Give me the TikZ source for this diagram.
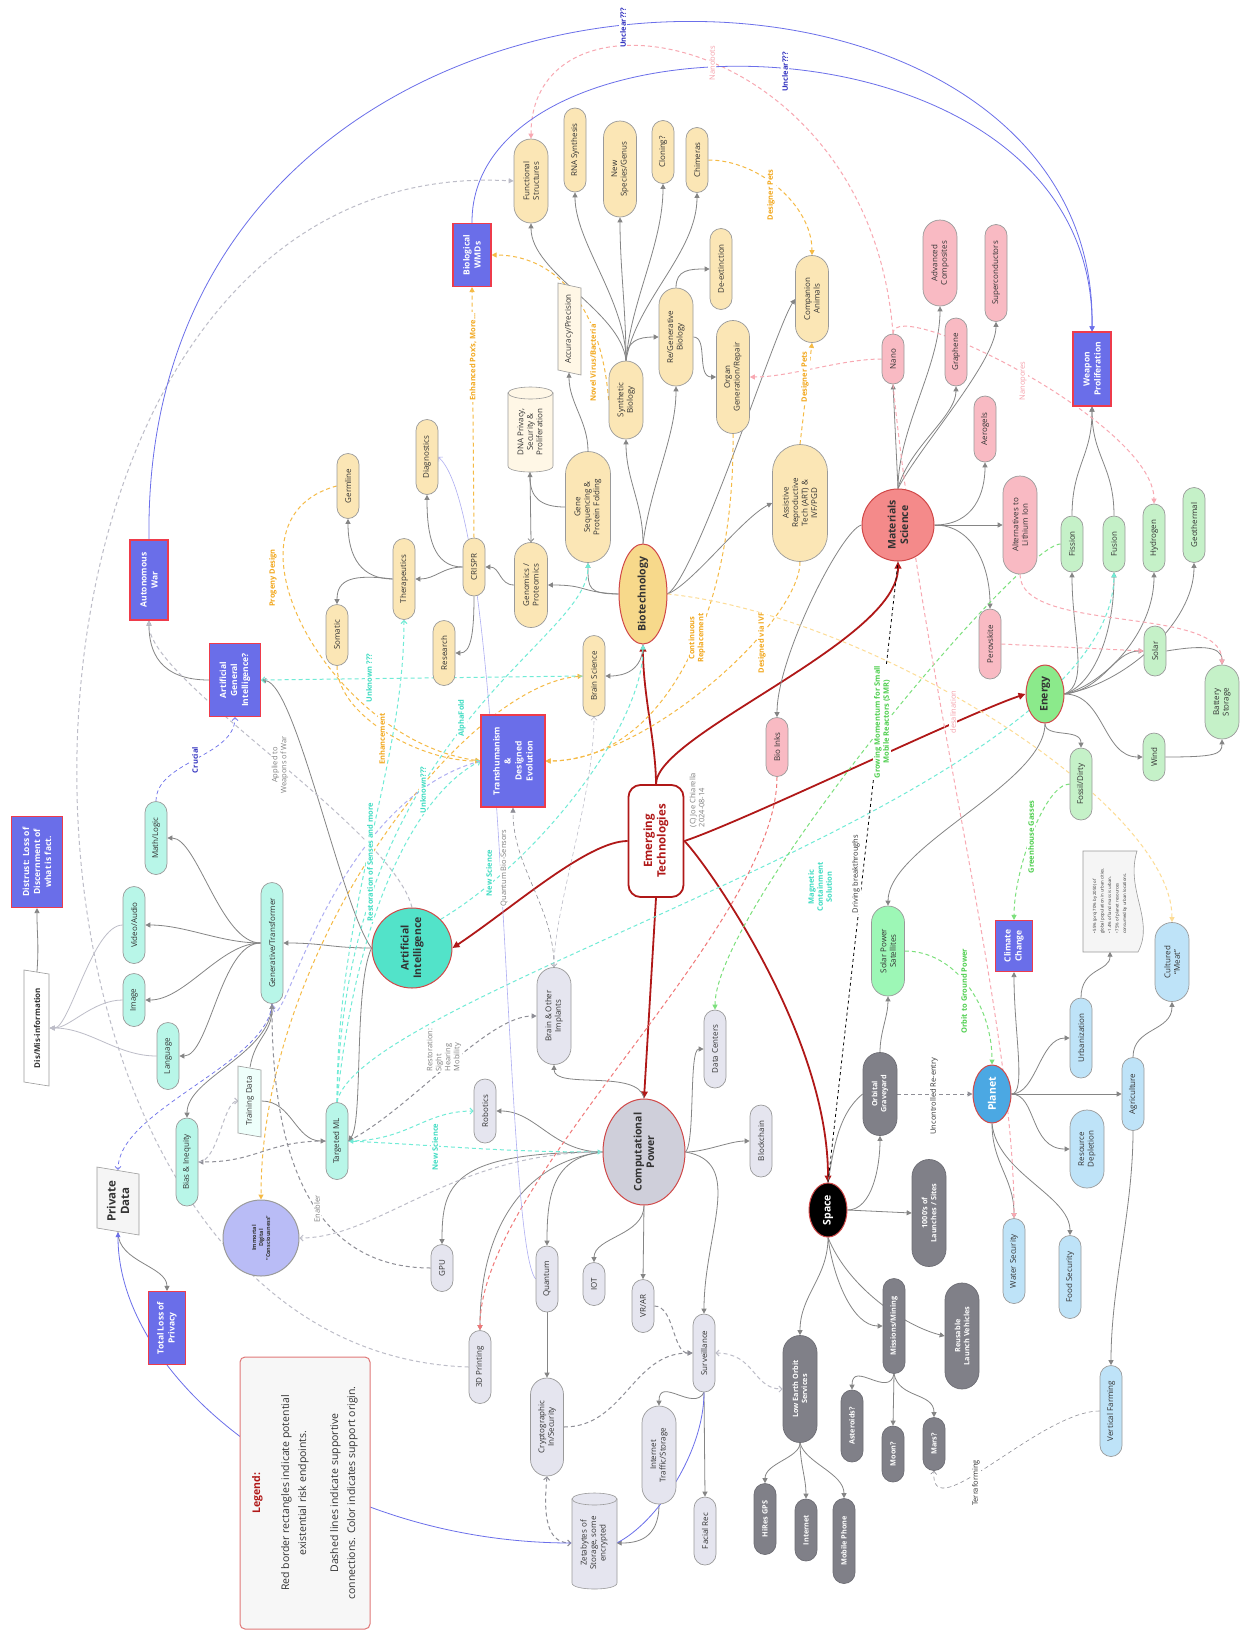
\documentclass[tikz,border=0pt]{standalone}
\usepackage{fontspec}
\setmainfont{Open Sans}
\usetikzlibrary{shapes.misc,shapes.geometric,arrows.meta,backgrounds}

\definecolor{bioFill}{HTML}{FBE6B5}
\definecolor{bioHub}{HTML}{F7D98B}
\definecolor{dnaFill}{HTML}{FFF7E6}
\definecolor{matFill}{HTML}{F9BAC3}
\definecolor{matHub}{HTML}{F48A8A}
\definecolor{enFill}{HTML}{C5F1C8}
\definecolor{enHub}{HTML}{8BEA8B}
\definecolor{spsFill}{HTML}{9DF7B6}
\definecolor{aiFill}{HTML}{B8F6E8}
\definecolor{aiHub}{HTML}{52E3C9}
\definecolor{tdFill}{HTML}{EEFFFB}
\definecolor{cpFill}{HTML}{E5E5EF}
\definecolor{cpHub}{HTML}{CFCFDA}
\definecolor{spFill}{HTML}{808088}
\definecolor{plFill}{HTML}{BEE3F8}
\definecolor{plHub}{HTML}{4BA8E3}
\definecolor{immFill}{HTML}{B9BCF6}
\definecolor{riskFill}{HTML}{6A6EE9}
\definecolor{riskLine}{HTML}{EE3B4B}
\definecolor{hubLine}{HTML}{D04848}
\definecolor{nodeLine}{HTML}{9A9A9A}
\definecolor{lineGray}{HTML}{858585}
\definecolor{etRed}{HTML}{B01818}
\definecolor{dashOrange}{HTML}{F5BA45}
\definecolor{dashPale}{HTML}{FDDC95}
\definecolor{dashPink}{HTML}{F8A8B2}
\definecolor{dashRed}{HTML}{F07878}
\definecolor{dashTeal}{HTML}{70EBD6}
\definecolor{dashGreen}{HTML}{7CE07C}
\definecolor{dashLav}{HTML}{AFAFF2}
\definecolor{dashGray}{HTML}{BDBDC8}
\definecolor{dashDark}{HTML}{8E8E96}
\definecolor{unclearBlue}{HTML}{6B6FEA}
\definecolor{labOrange}{HTML}{F2A81E}
\definecolor{labTeal}{HTML}{3FDCC2}
\definecolor{labGreen}{HTML}{4FCF4F}
\definecolor{labPink}{HTML}{F5A0AA}
\definecolor{labBlue}{HTML}{3434C0}
\definecolor{textDark}{HTML}{333333}
\definecolor{legendLine}{HTML}{E07878}
\definecolor{legendFill}{HTML}{F7F7F7}
\definecolor{paperFill}{HTML}{F5F5F5}

\tikzset{
  dims/.style 2 args={minimum height=#1pt, minimum width=#2pt},
  tech/.style={rounded rectangle, rotate=90, draw=nodeLine, line width=0.7pt,
    inner sep=1pt, align=center, text=textDark, font=\fontsize{8}{9.5}\selectfont},
  biobox/.style={tech, fill=bioFill},
  matbox/.style={tech, fill=matFill},
  enbox/.style={tech, fill=enFill},
  aibox/.style={tech, fill=aiFill},
  cpbox/.style={tech, fill=cpFill},
  plbox/.style={tech, fill=plFill},
  spbox/.style={tech, fill=spFill, draw=spFill!85!black, text=white,
    font=\bfseries\fontsize{7.3}{9}\selectfont},
  txtbox/.style={rectangle, rotate=90, inner sep=1pt, align=center, text=textDark,
    font=\fontsize{8}{9.5}\selectfont},
  hub/.style={ellipse, rotate=90, draw=hubLine, line width=1pt, inner sep=-20pt,
    align=center, text=textDark, font=\bfseries\fontsize{10.5}{12.5}\selectfont},
  risk/.style={rectangle, rotate=90, draw=riskLine, line width=1.1pt, fill=riskFill,
    text=white, inner sep=2pt, align=center, font=\bfseries\fontsize{8.5}{11}\selectfont},
  lab/.style={rotate=90, fill=white, inner sep=1pt, align=center,
    font=\bfseries\fontsize{7.5}{9}\selectfont},
  labn/.style={lab, font=\fontsize{7.5}{9}\selectfont},
  arr/.style={draw=lineGray, line width=0.8pt, -{Triangle[length=5pt,width=5pt]}},
  arrLight/.style={draw=dashGray, line width=0.8pt, -{Triangle[length=5pt,width=5pt]}},
  arrOpen/.style={draw=lineGray, line width=0.8pt, -{Straight Barb[length=3pt,width=6pt]}},
  etarrow/.style={draw=etRed, line width=1.8pt, -{Triangle[length=7pt,width=6.5pt]}},
  dsh/.style={dash pattern=on 4pt off 3pt, line width=1pt},
  tipF/.style={-{Triangle[length=5pt,width=5pt]}},
  tipO/.style={-{Straight Barb[length=3pt,width=6pt]}},
  tipFF/.style={{Triangle[length=5pt,width=5pt]}-{Triangle[length=5pt,width=5pt]}},
  tipOO/.style={{Straight Barb[length=3pt,width=6pt]}-{Straight Barb[length=3pt,width=6pt]}},
  tipOF/.style={{Straight Barb[length=3pt,width=6pt]}-{Triangle[length=5pt,width=5pt]}},
}

\begin{document}
\begin{tikzpicture}[x=1pt,y=-1pt]
\useasboundingbox (0,0) rectangle (1246,1630);

% Biotechnology
\node[biobox, dims={34}{86}] (fs) at (531,181) {Functional\\Structures};
\node[biobox, dims={22}{86}] (rna) at (575,150) {RNA Synthesis};
\node[biobox, dims={33}{98}] (nsg) at (620,169) {New\\Species/Genus};
\node[biobox, dims={22}{65}] (clo) at (663,152) {Cloning?};
\node[biobox, dims={22}{67}] (chi) at (697,160) {Chimeras};
\node[biobox, dims={22}{83}] (dex) at (721,269) {De-extinction};
\node[biobox, dims={34}{100}] (rg) at (676,337) {Re/Generative\\Biology};
\node[biobox, dims={33}{115}] (org) at (733,377) {Organ\\Generation/Repair};
\node[biobox, dims={33}{89}] (ca) at (812,299) {Companion\\Animals};
\node[biobox, dims={34}{80}] (syn) at (626,400) {Synthetic\\Biology};
\node[biobox, dims={45}{113}] (gs) at (588,507) {Gene\\Sequencing \&\\Protein Folding};
\node[biobox, dims={33}{87}] (gen) at (531,585) {Genomics /\\Proteomics};
\node[biobox, dims={22}{60}] (cr) at (474,567) {CRISPR};
\node[biobox, dims={22}{77}] (diag) at (427,457) {Diagnostics};
\node[biobox, dims={22}{67}] (res) at (444,653) {Research};
\node[biobox, dims={22}{83}] (ther) at (404,579) {Therapeutics};
\node[biobox, dims={22}{67}] (germ) at (348,486) {Germline};
\node[biobox, dims={22}{63}] (som) at (337,635) {Somatic};
\node[biobox, dims={22}{83}] (bs) at (594,676) {Brain Science};
\node[biobox, dims={55}{119}] (art) at (800,503) {Assistive\\Reproductive\\Tech (ART) \&\\IVF/PGD};
\filldraw[fill=dnaFill, draw=nodeLine, line width=0.6pt] (508,393) -- (508,466) .. controls (508,474) and (553,474) .. (553,466) -- (553,393) -- cycle;
\filldraw[fill=dnaFill, draw=nodeLine, line width=0.6pt] (530.5,393) ellipse [x radius=22.5pt, y radius=6pt];
\node[txtbox, dims={45}{80}] (dna) at (530,432) {DNA Privacy,\\Security \&\\Proliferation};
\filldraw[fill=dnaFill, draw=nodeLine, line width=0.6pt] (558,283) -- (581,288) -- (581,375) -- (558,370) -- cycle;
\node[txtbox, dims={23}{87}] (acc) at (569,329) {Accuracy/Precision};
\node[hub, fill=bioHub, dims={48}{100}] (bt) at (643,594) {Biotechnology};

% Materials Science
\node[matbox, dims={22}{52}] (nano) at (893,359) {Nano};
\node[matbox, dims={34}{88}] (adc) at (940,263) {Advanced\\Composites};
\node[matbox, dims={22}{70}] (gra) at (956,352) {Graphene};
\node[matbox, dims={22}{99}] (scon) at (996,273) {Superconductors};
\node[matbox, dims={22}{68}] (aer) at (985,429) {Aerogels};
\node[matbox, dims={34}{100}] (ali) at (1020,525) {Alternatives to\\Lithium Ion};
\node[matbox, dims={22}{72}] (per) at (990,644) {Perovskite};
\node[matbox, dims={22}{61}] (bio) at (777,747) {Bio Inks};
\node[hub, fill=matHub, dims={72}{72}] (ms) at (898,525) {Materials\\Science};

% Energy
\node[enbox, dims={22}{58}] (fis) at (1072,544) {Fission};
\node[enbox, dims={22}{58}] (fus) at (1114,544) {Fusion};
\node[enbox, dims={22}{70}] (hyd) at (1154,538) {Hydrogen};
\node[enbox, dims={22}{77}] (geo) at (1194,525) {Geothermal};
\node[enbox, dims={22}{52}] (sol) at (1155,651) {Solar};
\node[enbox, dims={34}{76}] (bat) at (1222,702) {Battery\\Storage};
\node[enbox, dims={22}{50}] (wind) at (1154,757) {Wind};
\node[enbox, dims={22}{74}] (fos) at (1081,784) {Fossil/Dirty};
\node[enbox, fill=spsFill, dims={33}{92}] (sps) at (888,951) {Solar Power\\Satellites};
\node[hub, fill=enHub, dims={38}{58}] (en) at (1045,694) {Energy};

% Risk endpoints
\node[risk, dims={38}{63}] (bwmd) at (472,255) {Biological\\WMDs};
\node[risk, dims={38}{74}] (wp) at (1092,369) {Weapon\\Proliferation};
\node[risk, dims={38}{80}] (aw) at (149,580) {Autonomous\\War};
\node[risk, dims={51}{73}] (agi) at (235,680) {Artificial\\General\\Intelligence?};
\node[risk, dims={64}{92}] (trans) at (513,761) {Transhumanism\\\&\\Designed\\Evolution};
\node[risk, dims={51}{91}] (dis) at (37,862) {Distrust: Loss of\\Discernment of\\what is fact.};
\node[risk, dims={37}{73}] (tlp) at (167,1328) {Total Loss of\\Privacy};
\node[risk, dims={37}{51}] (cc) at (1014,946) {Climate\\Change};

% Artificial Intelligence
\node[aibox, dims={22}{123}] (gt) at (272,943) {Generative/Transformer};
\node[aibox, dims={22}{75}] (ml) at (156,838) {Math/Logic};
\node[aibox, dims={22}{79}] (va) at (134,925) {Video/Audio};
\node[aibox, dims={22}{55}] (img) at (134,1000) {Image};
\node[aibox, dims={22}{69}] (lang) at (168,1056) {Language};
\node[aibox, dims={22}{90}] (bi) at (187,1162) {Bias \& Inequity};
\node[aibox, dims={22}{79}] (tml) at (337,1141) {Targeted ML};
\filldraw[fill=tdFill, draw=nodeLine, line width=0.6pt] (238,1066) -- (261,1070) -- (261,1137) -- (238,1133) -- cycle;
\node[txtbox, dims={23}{67}] (td) at (250,1101) {Training Data};
\filldraw[fill=white, draw=nodeLine, line width=0.6pt] (24,970) -- (49,974) -- (49,1086) -- (24,1082) -- cycle;
\node[txtbox, dims={25}{112}, font=\bfseries\fontsize{8}{9.5}\selectfont] (dm) at (37,1028) {Dis/Mis-information};
\filldraw[fill=paperFill, draw=nodeLine, line width=0.6pt] (97,1167) -- (139,1174) -- (139,1235) -- (97,1228) -- cycle;
\node[txtbox, dims={42}{62}, font=\bfseries\fontsize{11.5}{13.5}\selectfont] (pd) at (118,1201) {Private\\Data};
\node[hub, fill=aiHub, dims={80}{80}] (ai) at (412,948) {Artificial\\Intelligence};
\node[hub, fill=immFill, draw=nodeLine, dims={76}{76}, font=\bfseries\fontsize{5.5}{7}\selectfont] (imm) at (261,1238) {Immortal\\Digital\\``Consciousness''};

% Computational Power
\node[cpbox, dims={34}{99}] (boi) at (554,1016) {Brain \& Other\\Implants};
\node[cpbox, dims={22}{66}] (rob) at (485,1111) {Robotics};
\node[cpbox, dims={22}{80}] (dc) at (715,1049) {Data Centers};
\node[cpbox, dims={22}{74}] (blk) at (761,1141) {Blockchain};
\node[cpbox, dims={22}{49}] (gpu) at (442,1268) {GPU};
\node[cpbox, dims={22}{68}] (qu) at (547,1279) {Quantum};
\node[cpbox, dims={22}{45}] (iot) at (594,1284) {IOT};
\node[cpbox, dims={22}{55}] (vr) at (643,1306) {VR/AR};
\node[cpbox, dims={22}{80}] (surv) at (704,1353) {Surveillance};
\node[cpbox, dims={22}{75}] (tdp) at (480,1367) {3D Printing};
\node[cpbox, dims={33}{100}] (cry) at (547,1427) {Cryptographic\\In/Security};
\node[cpbox, dims={34}{100}] (its) at (659,1455) {Internet\\Traffic/Storage};
\node[cpbox, dims={22}{70}] (fr) at (705,1531) {Facial Rec};
\filldraw[fill=cpFill, draw=nodeLine, line width=0.6pt] (572,1499) -- (572,1583) .. controls (572,1591) and (617,1591) .. (617,1583) -- (617,1499) -- cycle;
\filldraw[fill=cpFill, draw=nodeLine, line width=0.6pt] (594.5,1499) ellipse [x radius=22.5pt, y radius=6pt];
\node[txtbox, dims={45}{86}] (zb) at (594,1543) {Zetabytes of\\Storage, some\\encrypted};
\node[hub, fill=cpHub, dims={82}{106}] (cp) at (644,1152) {Computational\\Power};

% Space
\node[spbox, dims={34}{85}] (og) at (880,1094) {Orbital\\Graveyard};
\node[spbox, dims={34}{109}] (lau) at (929,1213) {1000's of\\Launches / Sites};
\node[spbox, dims={22}{97}] (mm) at (894,1326) {Missions/Mining};
\node[spbox, dims={34}{108}] (rlv) at (962,1336) {Reusable\\Launch Vehicles};
\node[spbox, dims={22}{74}] (ast) at (852,1426) {Asteroids?};
\node[spbox, dims={22}{58}] (moon) at (893,1454) {Moon?};
\node[spbox, dims={22}{55}] (mars) at (934,1444) {Mars?};
\node[spbox, dims={34}{109}] (leo) at (800,1389) {Low Earth Orbit\\Services};
\node[spbox, dims={22}{73}] (gps) at (765,1519) {HiRes GPS};
\node[spbox, dims={22}{64}] (inet) at (806,1530) {Internet};
\node[spbox, dims={22}{87}] (mob) at (844,1541) {Mobile Phone};
\node[hub, fill=black, text=white, dims={38}{54}] (sp) at (828,1210) {Space};

% Planet
\node[plbox, dims={22}{82}] (urb) at (1081,1038) {Urbanization};
\node[plbox, dims={34}{80}] (rd) at (1087,1149) {Resource\\Depletion};
\node[plbox, dims={22}{75}] (agr) at (1133,1094) {Agriculture};
\node[plbox, dims={34}{81}] (cm) at (1172,962) {Cultured\\``Meat''};
\node[plbox, dims={22}{87}] (ws) at (1014,1261) {Water Security};
\node[plbox, dims={22}{85}] (fsec) at (1070,1277) {Food Security};
\node[plbox, dims={22}{93}] (vf) at (1111,1411) {Vertical Farming};
\filldraw[fill=paperFill, draw=nodeLine, line width=0.6pt] (1083,851) -- (1137,851) .. controls (1125,890) and (1155,920) .. (1138,952) -- (1083,952) -- cycle;
\node[txtbox, dims={55}{101}, align=left, font=\fontsize{4.3}{7.5}\selectfont] (note) at (1110,901) {• 55\% (proj 70\% by 2050) of\\global population in urban cities.\\• 1.4\% of land mass is urban.\\• 75\% of planet resources\\consumed by urban locations.};
\node[hub, fill=plHub, text=white, dims={38}{58}] (pl) at (992,1094) {Planet};

% Centre
\node[rectangle, rounded corners=12pt, rotate=90, draw=etRed, line width=1.8pt, fill=white, dims={55}{112}, text=etRed, align=center, font=\bfseries\fontsize{11.5}{13.5}\selectfont] (et) at (656,841) {Emerging\\Technologies};
\node[rotate=90, text=gray, align=left, font=\fontsize{7.5}{9}\selectfont] (copy) at (697,800) {(C) Joe Chiarella\\2024-08-14};

% Legend
\node[rectangle, rounded corners=5pt, rotate=90, draw=legendLine, line width=1pt, fill=legendFill, dims={130}{272}, align=center, text=textDark, font=\fontsize{10.5}{17}\selectfont] (legend) at (305,1493) {{\color{etRed}\bfseries Legend:}\\[12pt]Red border rectangles indicate potential\\existential risk endpoints.\\[15pt]Dashed lines indicate supportive\\connections. Color indicates support origin.};

\begin{scope}[on background layer]
\fill[white] (0,0) rectangle (1246,1630);

% Emerging Technologies spokes
\draw[etarrow] (et.east) .. controls +(0,-40) and +(0,50) .. (bt.west);
\draw[etarrow] (et.east) .. controls +(0,-50) and +(0,80) .. (ms.west);
\draw[etarrow] (et.south) .. controls +(60,-20) and +(-60,20) .. (en.north);
\draw[etarrow] (et.south) .. controls +(20,20) and +(0,-150) .. (sp.east);
\draw[etarrow] (et.north) .. controls +(-40,0) and +(60,-40) .. (ai.south);
\draw[etarrow] (et.west) -- (cp.east);

% Biotechnology tree
\draw[arr] (bt.north) .. controls +(-40,-2) and +(40,0) .. (gen.south);
\draw[arr] (bt.north) .. controls +(-30,0) and +(0,25) .. (gs.west);
\draw[arr] (bt.east) .. controls +(0,-40) and +(0,40) .. (syn.west);
\draw[arr] (bt.east) .. controls +(8,-60) and +(0,50) .. (rg.west);
\draw[arr] (bt.south) .. controls +(30,-20) and +(-20,30) .. (ca.north);
\draw[arr] (bt.south) .. controls +(25,-10) and +(-30,15) .. (art.north);
\draw[arr] (bt.west) .. controls +(0,25) and +(20,0) .. (bs.south);
\draw[arr] (syn.east) .. controls +(-5,-50) and +(0,50) .. (fs.west);
\draw[arr] (syn.east) .. controls +(0,-60) and +(0,50) .. (rna.west);
\draw[arr] (syn.east) .. controls +(0,-50) and +(0,50) .. (nsg.west);
\draw[arr] (syn.east) .. controls +(5,-60) and +(0,60) .. (clo.west);
\draw[arr] (syn.east) .. controls +(10,-60) and +(0,60) .. (chi.west);
\draw[arr] (syn.east) .. controls +(0,-20) and +(-20,0) .. (rg.north);
\draw[arr] (rg.east) .. controls +(0,-18) and +(-20,0) .. (dex.north);
\draw[arr] (rg.south) .. controls +(15,0) and +(-20,0) .. (org.north);
\draw[arr] (gs.north) .. controls +(-25,0) and +(0,25) .. (dna.west);
\draw[arr] (gs.east) .. controls +(0,-30) and +(0,30) .. (acc.west);
\draw[arrOpen] (dna.west) -- (gen.east);
\draw[arr] (gen.north) .. controls +(-15,0) and +(15,0) .. (cr.south);
\draw[arr] (cr.north) .. controls +(-30,0) and +(0,40) .. (diag.west);
\draw[arr] (cr.north) .. controls +(-20,0) and +(20,0) .. (ther.south);
\draw[arr] (cr.west) .. controls +(0,40) and +(15,0) .. (res.south);
\draw[arr] (ther.north) .. controls +(-30,0) and +(0,40) .. (germ.west);
\draw[arr] (ther.north) .. controls +(-40,-5) and +(0,-25) .. (som.east);

% Materials tree
\draw[arr] (ms.east) -- (nano.west);
\draw[arr] (ms.east) .. controls +(0,-60) and +(0,60) .. (adc.west);
\draw[arr] (ms.east) .. controls +(10,-40) and +(0,30) .. (gra.west);
\draw[arr] (ms.east) .. controls +(20,-40) and +(0,40) .. (scon.west);
\draw[arr] (ms.south) .. controls +(40,0) and +(0,30) .. (aer.west);
\draw[arr] (ms.south) -- (ali.north);
\draw[arr] (ms.south) .. controls +(40,0) and +(0,-40) .. (per.east);
\draw[arr] (ms.north) .. controls +(-20,5) and +(0,-60) .. (bio.east);

% Energy tree
\draw[arr] (en.south) .. controls +(25,-10) and +(0,60) .. (fis.west);
\draw[arr] (en.south) .. controls +(30,-10) and +(0,60) .. (fus.west);
\draw[arr] (en.south) .. controls +(40,-10) and +(0,60) .. (hyd.west);
\draw[arr] (en.south) .. controls +(60,-10) and +(0,60) .. (geo.west);
\draw[arr] (en.south) .. controls +(40,-5) and +(-30,0) .. (sol.north);
\draw[arr] (en.south) .. controls +(40,0) and +(-40,0) .. (wind.north);
\draw[arr] (en.west) .. controls +(0,15) and +(0,-20) .. (fos.east);
\draw[arr] (en.west) .. controls +(0,60) and +(0,-60) .. (sps.east);
\draw[arr] (fis.east) .. controls +(0,-50) and +(0,50) .. (wp.west);
\draw[arr] (fus.east) .. controls +(0,-50) and +(0,50) .. (wp.west);
\draw[arr] (sol.south) .. controls +(30,-5) and +(0,-20) .. (bat.east);
\draw[arr] (wind.south) .. controls +(50,0) and +(0,15) .. (bat.west);

% Space tree
\draw[arr] (sp.south) .. controls +(25,0) and +(0,30) .. (og.west);
\draw[draw=lineGray, line width=0.8pt] (og.north) .. controls +(-25,20) and +(5,-30) .. (sp.east);
\draw[arr] (og.east) .. controls +(0,-20) and +(0,20) .. (sps.west);
\draw[arr] (sp.south) -- (lau.north);
\draw[arr] (sp.west) .. controls +(5,40) and +(-30,0) .. (mm.north);
\draw[arr] (sp.west) .. controls +(20,50) and +(-40,-10) .. (rlv.north);
\draw[arr] (mm.west) .. controls +(-5,25) and +(0,-30) .. (ast.east);
\draw[arr] (mm.west) -- (moon.east);
\draw[arr] (mm.west) .. controls +(5,25) and +(0,-25) .. (mars.east);
\draw[arr] (sp.west) .. controls +(0,40) and +(0,-40) .. (leo.east);
\draw[arr] (leo.west) .. controls +(0,15) and +(0,-20) .. (gps.east);
\draw[arr] (leo.west) .. controls +(0,20) and +(0,-20) .. (inet.east);
\draw[arr] (leo.west) .. controls +(5,20) and +(0,-25) .. (mob.east);

% Planet tree
\draw[arr] (pl.south) .. controls +(15,0) and +(0,60) .. (cc.west);
\draw[arr] (pl.south) .. controls +(25,0) and +(-30,0) .. (urb.north);
\draw[arr] (pl.south) -- (agr.north);
\draw[arr] (pl.south) .. controls +(25,0) and +(-40,0) .. (rd.north);
\draw[arr] (pl.west) .. controls +(0,40) and +(0,-40) .. (ws.east);
\draw[arr] (pl.west) .. controls +(5,50) and +(0,-40) .. (fsec.east);
\draw[arr] (urb.east) .. controls +(0,-30) and +(0,20) .. (note.west);
\draw[arr] (agr.east) .. controls +(0,-30) and +(0,30) .. (cm.west);
\draw[arr] (agr.west) .. controls +(0,80) and +(0,-80) .. (vf.east);

% AI tree
\draw[arr] (ai.north) .. controls +(-40,0) and +(40,0) .. (gt.south);
\draw[arr] (ai.north) .. controls +(-18,40) and +(15,-20) .. (tml.south);
\draw[arr] (ai.north) .. controls +(-30,-40) and +(35,5) .. (agi.south);
\draw[arr] (agi.north) .. controls +(-50,0) and +(0,30) .. (aw.west);
\draw[arr] (gt.north) .. controls +(-40,0) and +(30,0) .. (ml.south);
\draw[arr] (gt.north) .. controls +(-40,0) and +(40,0) .. (va.south);
\draw[arr] (gt.north) .. controls +(-40,0) and +(40,0) .. (img.south);
\draw[arr] (gt.north) .. controls +(-40,0) and +(30,0) .. (lang.south);
\draw[arr] (gt.west) .. controls +(0,50) and +(0,-40) .. (bi.east);
\draw[arr] (td.east) .. controls +(5,-30) and +(0,30) .. (gt.west);
\draw[arr] (td.south) .. controls +(30,0) and +(-30,0) .. (tml.north);
\draw[arrLight] (va.north) .. controls +(-30,0) and +(20,0) .. (dm.south);
\draw[arrLight] (img.north) .. controls +(-30,0) and +(20,0) .. (dm.south);
\draw[arrLight] (lang.north) .. controls +(-40,0) and +(40,0) .. (dm.south);
\draw[arr] (dm.east) .. controls +(2,-30) and +(0,30) .. (dis.west);
\draw[arr] (pd.west) .. controls +(0,30) and +(0,-25) .. (tlp.east);

% Computational Power tree
\draw[arr] (cp.east) .. controls +(-5,-30) and +(0,25) .. (boi.west);
\draw[arr] (cp.north) .. controls +(-50,0) and +(40,0) .. (rob.south);
\draw[arr] (cp.south) .. controls +(10,-10) and +(-15,0) .. (dc.north);
\draw[arr] (cp.south) .. controls +(20,0) and +(-20,0) .. (blk.north);
\draw[arr] (cp.south) .. controls +(60,10) and +(0,-80) .. (surv.east);
\draw[arr] (cp.north) .. controls +(-150,0) and +(0,-60) .. (gpu.east);
\draw[arr] (cp.north) .. controls +(-80,10) and +(0,-100) .. (tdp.east);
\draw[arr] (cp.north) .. controls +(-50,5) and +(0,-50) .. (qu.east);
\draw[arr] (cp.west) .. controls +(0,30) and +(0,-25) .. (iot.east);
\draw[arr] (cp.west) -- (vr.east);
\draw[arr] (qu.west) -- (cry.east);
\draw[arr] (surv.west) .. controls +(-10,20) and +(0,-30) .. (its.east);
\draw[arr] (surv.west) -- (fr.east);
\draw[arr] (its.west) .. controls +(0,35) and +(20,0) .. (zb.south);

% Supportive connections
\draw[dsh, draw=dashDark, tipF] (og.south) -- (pl.north);
\draw[dsh, draw=dashGreen, tipF] (sps.south) .. controls +(50,0) and +(0,-60) .. (pl.east);
\draw[dsh, draw=dashGreen, tipF] (fos.north) .. controls +(-25,0) and +(0,-50) .. (cc.east);
\draw[dsh, draw=dashTeal, tipF] (tml.east) .. controls +(23,-112) and +(-4,227) .. (fus.west);
\draw[dsh, draw=dashGreen, tipF] (fis.north) .. controls +(-40,0) and +(0,-100) .. (dc.east);
\draw[dsh, draw=dashPink, tipF] (nano.east) .. controls +(-23,-303) and +(0,-168) .. (fs.east);
\draw[dsh, draw=dashPink, tipF] (nano.east) .. controls +(0,-40) and +(0,-80) .. (hyd.east);
\draw[dsh, draw=dashPink, tipF] (nano.north) .. controls +(-40,0) and +(40,0) .. (org.south);
\draw[dsh, draw=dashPink, tipF] (nano.west) .. controls +(30,300) and +(0,-200) .. (ws.east);
\draw[dsh, draw=dashPink, tipF] (ali.west) .. controls +(0,60) and +(0,-60) .. (bat.east);
\draw[dsh, draw=dashPink, tipF] (per.south) -- (sol.north);
\draw[dsh, draw=dashRed, tipF] (bio.west) .. controls +(0,150) and +(0,-150) .. (tdp.east);
\draw[dsh, draw=dashOrange, tipF] (syn.north) .. controls +(-8,-100) and +(60,0) .. (bwmd.south);
\draw[dsh, draw=dashOrange, tipF] (cr.east) -- (bwmd.west);
\draw[dsh, draw=dashOrange, tipF] (chi.south) .. controls +(50,0) and +(0,-50) .. (ca.east);
\draw[dsh, draw=dashOrange, tipF] (art.east) -- (ca.west);
\draw[dsh, draw=dashOrange, tipF] (org.west) .. controls +(2,186) and +(115,0) .. (trans.south);
\draw[dsh, draw=dashOrange, tipF] (art.west) .. controls +(0,60) and +(100,0) .. (trans.south);
\draw[dsh, draw=dashOrange, tipF] (som.west) .. controls +(0,50) and +(-60,0) .. (trans.north);
\draw[dsh, draw=dashOrange, tipF] (germ.north) .. controls +(-127,34) and +(-151,-21) .. (trans.north);
\draw[dsh, draw=dashOrange, tipFF] (bs.north) .. controls +(-120,10) and +(0,-250) .. (imm.east);
\draw[dsh, draw=dashPale, tipF] (bt.south) .. controls +(200,20) and +(0,-120) .. (cm.east);
\draw[dsh, draw=dashTeal, tipF] (ai.south east) .. controls +(100,-60) and +(0,80) .. (bt.west);
\draw[dsh, draw=dashTeal, tipF] (tml.east) .. controls +(8,-372) and +(0,80) .. (gs.west);
\draw[dsh, draw=dashTeal, tipO] (tml.east) .. controls +(0,-200) and +(0,150) .. (ther.west);
\draw[dsh, draw=dashTeal, tipO] (tml.east) .. controls +(20,-200) and +(-60,30) .. (trans.north);
\draw[dsh, draw=dashTeal, tipO] (bs.north) -- (agi.south);
\draw[dsh, draw=dashTeal, tipO] (tml.south) .. controls +(60,0) and +(-50,0) .. (rob.north);
\draw[dsh, draw=dashTeal, tipFF] (tml.south) .. controls +(100,5) and +(-100,0) .. (cp.north);
\draw[dsh, draw=dashLav, tipF] (trans.north) .. controls +(-150,40) and +(10,40) .. (gt.west);
\draw[dsh, line width=0.7pt, draw=unclearBlue, tipO] (gt.west) .. controls +(-4,60) and +(0,-60) .. (pd.east);
\draw[dsh, line width=0.7pt, draw=unclearBlue, tipO] (ml.east) .. controls +(0,-40) and +(0,40) .. (agi.west);
\draw[dsh, draw=dashDark, tipF] (tml.north) .. controls +(-60,0) and +(60,0) .. (bi.south);
\draw[dsh, draw=dashGray, tipO] (bi.south) .. controls +(20,0) and +(-15,0) .. (td.north);
\draw[dsh, draw=dashDark, tipF] (tml.south) .. controls +(60,-30) and +(-50,0) .. (boi.north);
\draw[draw=dashLav, line width=0.6pt, tipO] (qu.north) .. controls +(-33,-39) and +(70,63) .. (diag.south);
\draw[dsh, line width=0.6pt, draw=dashDark, tipOF] (boi.east) .. controls +(0,-60) and +(0,60) .. (trans.west);
\draw[dsh, line width=0.6pt, draw=dashGray, tipOO] (boi.east) .. controls +(0,-60) and +(0,80) .. (bs.west);
\draw[dsh, draw=dashGray, tipF] (tdp.north) .. controls +(-529,-17) and +(-574,-31) .. (fs.north);
\draw[dsh, draw=dashGray, tipF] (ai.east) .. controls +(-20,-80) and +(0,60) .. (aw.west);
\draw[dsh, draw=dashDark, tipF] (gpu.north) .. controls +(-120,0) and +(0,150) .. (gt.west);
\draw[dsh, draw=dashGray, tipO] (cp.north) .. controls +(-150,0) and +(80,0) .. (imm.south);
\draw[dsh, draw=dashDark, tipF] (vr.south) .. controls +(20,0) and +(-20,0) .. (surv.north);
\draw[dsh, draw=dashDark, tipF] (cry.south) .. controls +(60,0) and +(-60,0) .. (surv.north);
\draw[dsh, draw=dashGray, tipOO] (surv.south) .. controls +(40,0) and +(-30,0) .. (leo.north);
\draw[dsh, draw=dashDark, tipOO] (cry.west) .. controls +(-5,50) and +(-20,0) .. (zb.north);
\draw[dsh, line width=0.6pt, draw=dashDark, tipO] (vf.north) .. controls +(-60,0) and +(-5,60) .. (mars.west);
\draw[dashed, draw=black, line width=0.8pt] (sp.east) -- (ms.west);
\draw[draw=unclearBlue, line width=0.8pt] (surv.west) .. controls +(0,60) and +(40,-20) .. (zb.south);
\draw[draw=unclearBlue, line width=0.8pt, tipF] (zb.north) .. controls +(-250,0) and +(0,150) .. (pd.west);
\draw[draw=unclearBlue, line width=0.8pt, tipF] (aw.east) .. controls +(-9,-650) and +(8,-442) .. (wp.east);
\draw[draw=unclearBlue, line width=0.8pt, tipF] (bwmd.east) .. controls +(-2,-224) and +(3,-332) .. (wp.east);
\end{scope}

% Connector labels
\node[lab, text=labBlue] (lUnclearA) at (623,28) {Unclear???};
\node[lab, text=labBlue] (lUnclearB) at (785,72) {Unclear???};
\node[labn, text=labPink] (lNanobots) at (712,63) {Nanobots};
\node[lab, text=labOrange] (lPetsA) at (771,195) {Designer Pets};
\node[lab, text=labOrange] (lPetsB) at (805,377) {Designer Pets};
\node[lab, text=labOrange] (lVirus) at (593,363) {Novel Virus/Bacteria};
\node[lab, text=labOrange] (lPox) at (473,357) {Enhanced Pox's, More...};
\node[labn, text=labPink] (lPores) at (1023,381) {Nanopores};
\node[lab, text=labOrange] (lProgeny) at (273,578) {Progeny Design};
\node[lab, text=labTeal] (lUnknownA) at (369,678) {Unknown ???};
\node[lab, text=labOrange] (lEnhance) at (382,739) {Enhancement};
\node[labn, text=gray] (lWeapons) at (280,765) {Applied to\\Weapons of War};
\node[lab, text=labBlue] (lCrucial) at (195,760) {Crucial};
\node[lab, text=labTeal] (lAlpha) at (462,718) {AlphaFold};
\node[lab, text=labOrange] (lReplace) at (697,638) {Continuous\\Replacement};
\node[lab, text=labOrange] (lIVF) at (762,643) {Designed via IVF};
\node[lab, text=labGreen] (lSMR) at (882,722) {Growing Momentum for Small\\Mobile Reactors (SMR)};
\node[labn, text=labPink] (lDesal) at (953,712) {desalination};
\node[lab, text=labGreen] (lGreen) at (1031,837) {Greenhouse Gasses};
\node[lab, text=labTeal] (lMagnet) at (820,887) {Magnetic\\Containment\\Solution};
\node[labn, text=textDark] (lDriving) at (856,874) {Driving breakthroughs};
\node[lab, text=labTeal] (lSenses) at (370,862) {Restoration of Senses and more};
\node[lab, text=labTeal] (lUnknownB) at (423,790) {Unknown???};
\node[lab, text=labTeal] (lSciA) at (489,873) {New Science};
\node[labn, text=gray] (lSensors) at (504,868) {Quantum Bio-Sensors};
\node[labn, text=gray, align=left] (lRestore) at (444,1050) {Restoration:\\Sight\\Hearing\\Mobility};
\node[lab, text=labTeal] (lSciB) at (435,1147) {New Science};
\node[labn, text=gray] (lEnabler) at (317,1209) {Enabler};
\node[labn, text=textDark] (lReentry) at (934,1096) {Uncontrolled Re-entry};
\node[lab, text=labGreen] (lOrbit) at (964,991) {Orbit to Ground Power};
\node[labn, text=textDark] (lTerra) at (976,1483) {Terraforming};
\end{tikzpicture}
\end{document}
